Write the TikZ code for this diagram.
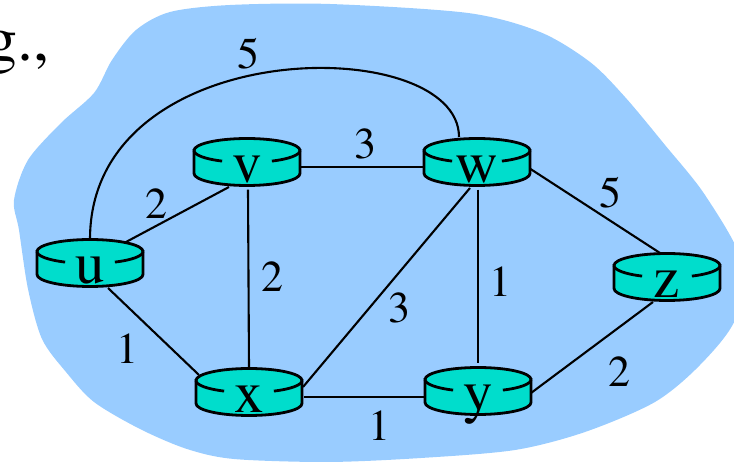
\documentclass[tikz,border=0pt]{standalone}
\usepackage[T1]{fontenc}
\usepackage{mathptmx}
\usetikzlibrary{calc}
\definecolor{cloud}{HTML}{99CCFF}
\definecolor{turq}{HTML}{00DDCC}
\tikzset{
  router/.style = {minimum width=106pt, minimum height=47pt, inner sep=0pt},
  rname/.style = {font=\fontsize{59}{61}\selectfont, inner sep=0pt, anchor=base},
  cost/.style = {font=\fontsize{44}{48}\selectfont, inner sep=0pt},
  link/.style = {line width=2.1pt},
  rline/.style = {line width=2.8pt}
}

\begin{document}
\begin{tikzpicture}[x=1pt, y=-1pt]
\useasboundingbox (0,0) rectangle (734,462);
\fill [color = cloud] plot [smooth cycle] coordinates {(14,200) (28,160) (61,123) (94,93) (112,60) (136,30) (170,12) (230,5) (330,4) (468,13) (540,32) (590,62) (625,97) (665,145) (705,195) (742,262) (735,320) (700,365) (655,402) (585,432) (515,450) (421,458) (328,462) (234,459) (187,449) (140,429) (94,402) (66,372) (42,339) (28,289) (19,230)};
\node [font=\fontsize{64}{66}\selectfont, inner sep=0pt, anchor=base west] (eg) at (-15,61) {g.,};

% routers
\foreach \n/\px/\py in {u/90/263, v/247/162, w/477/162, x/249/392, y/478/391, z/667/277}
  \node [router] (\n) at (\px,\py) {};

% links
\draw [link] (u.north) .. controls ($(u.north)+(0,-207)$) and ($(w)+(-18,-130)$) .. ($(w)+(-18,-25)$);
\draw [link] ($(u)+(36,-21)$) -- ($(v)+(-18,25)$);
\draw [link] ($(v.east)+(0,5)$) -- ($(w.west)+(0,5)$);
\draw [link] ($(v.south)+(1,4)$) -- (x.north);
\draw [link] ($(u)+(18,25)$) -- ($(x)+(-50,-17)$);
\draw [link] ($(x)+(54,-5)$) -- ($(w)+(-7,26)$);
\draw [link] ($(w.south)+(1,4)$) -- ($(y.north)+(0,-4)$);
\draw [link] ($(w)+(52,6)$) -- ($(z)+(-7,-24)$);
\draw [link] ($(x)+(55,5)$) -- ($(y)+(-52,6)$);
\draw [link] ($(y)+(53,2)$) -- ($(z)+(-14,25)$);

\foreach \n in {u,v,w,x,y,z} {
  \begin{scope}[shift={(\n)}]
    \filldraw [rline, fill=turq] (-53,-11.5) -- (-53,11.5) arc [start angle=180, end angle=0, x radius=53, y radius=12] -- (53,-11.5) -- cycle;
    \fill [turq] (0,-11.5) ellipse [x radius=53, y radius=12];
    \draw [rline] (-53,-11.5) arc [start angle=180, end angle=360, x radius=53, y radius=12];
    \draw [rline] (53,-11.5) arc [start angle=0, end angle=62, x radius=53, y radius=12];
    \draw [rline] (-53,-11.5) arc [start angle=180, end angle=118, x radius=53, y radius=12];
    \node [rname] (\n-name) at (0,20.5) {\n};
  \end{scope}
}

% costs
\node [cost] (c-uw) at (248,54) {5};
\node [cost] (c-vw) at (365,144) {3};
\node [cost] (c-uv) at (156,204) {2};
\node [cost] (c-wz) at (610,193) {5};
\node [cost] (c-vx) at (272,277) {2};
\node [cost] (c-wy) at (500,282) {1};
\node [cost] (c-xw) at (399,308) {3};
\node [cost] (c-ux) at (127,349) {1};
\node [cost] (c-yz) at (619,372) {2};
\node [cost] (c-xy) at (379,426) {1};
\end{tikzpicture}
\end{document}
